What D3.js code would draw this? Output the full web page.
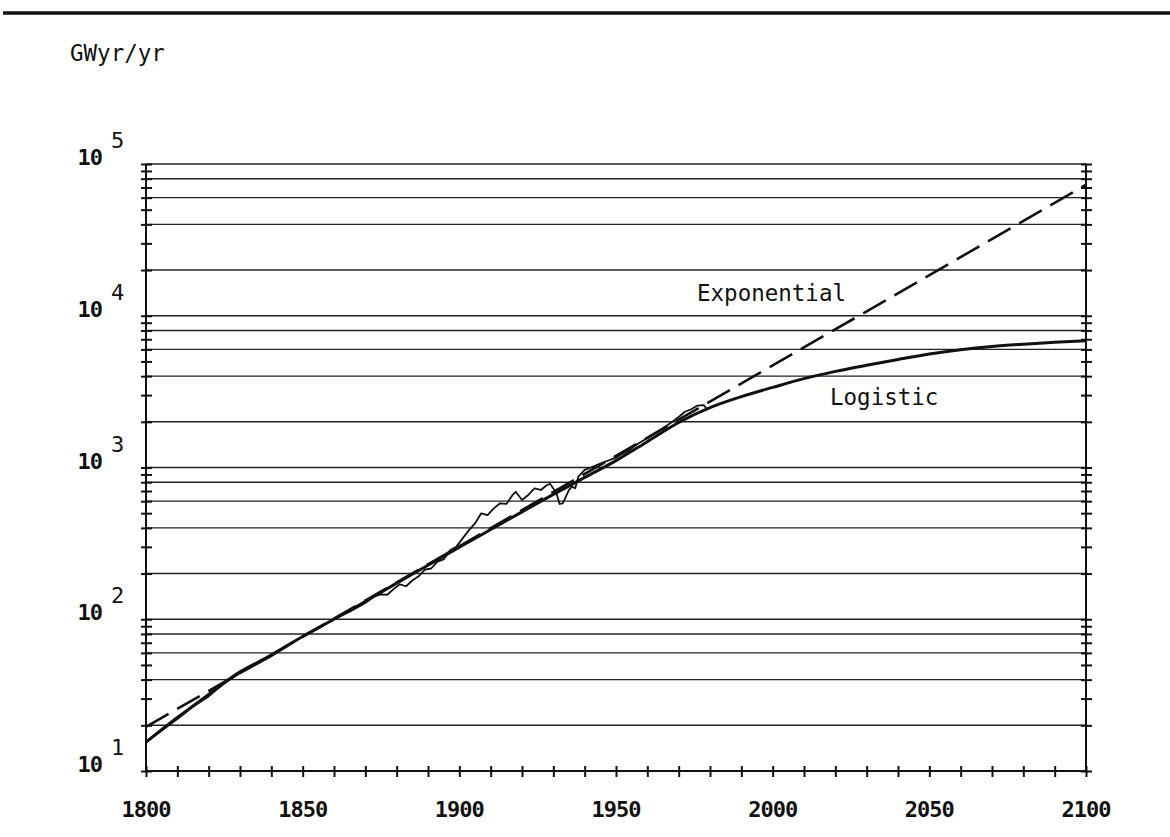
<!DOCTYPE html>
<meta charset="utf-8">
<title>Energy consumption: exponential vs logistic</title>
<style>

    body {
        margin: 0;
        background: #fff;
    }

    text {
        fill: #111;
    }

    .label {
        font-family: "DejaVu Sans Mono", monospace;
        font-size: 22.5px;
    }

    .tick-label {
        font-family: "DejaVu Sans Mono", monospace;
        font-weight: bold;
    }

</style>
<body>
<script src="https://cdn.jsdelivr.net/npm/d3@7/dist/d3.min.js"></script>
<script>

    // years on the x axis and the labelled ones
    var xLabels = [1800, 1850, 1900, 1950, 2000, 2050, 2100];
    var yExponents = [1, 2, 3, 4, 5];

    // exponential fit (straight on the log scale)
    var expoYears  = [1800, 2100];
    var expoValues = [19.5, 73000];

    // logistic fit
    var logiYears  = [1800, 1810, 1820, 1830, 1840, 1850, 1860, 1870, 1880, 1890,
                      1900, 1910, 1920, 1930, 1940, 1950, 1960, 1970, 1980, 1990,
                      2000, 2010, 2020, 2030, 2040, 2050, 2060, 2070, 2080, 2090, 2100];
    var logiValues = [15.5, 22.5, 32, 45, 58, 77, 100, 131, 173, 227,
                      298, 390, 510, 665, 860, 1110, 1480, 1980, 2480, 2930,
                      3370, 3850, 4300, 4720, 5150, 5600, 5980, 6280, 6500, 6680, 6850];

    // historical primary energy use, GWyr/yr
    var histYears  = [1800, 1805, 1810, 1815, 1820, 1825, 1830, 1835, 1840, 1845,
                      1850, 1855, 1860, 1865, 1870, 1873, 1875, 1877, 1879, 1881,
                      1883, 1885, 1887, 1889, 1891, 1893, 1895, 1897, 1899, 1901,
                      1903, 1905, 1907, 1909, 1911, 1913, 1915, 1917, 1918, 1920,
                      1922, 1924, 1926, 1928, 1929, 1931, 1932, 1933, 1935, 1936,
                      1937, 1938, 1940, 1942, 1944, 1946, 1948, 1950, 1952, 1954,
                      1956, 1958, 1960, 1962, 1964, 1966, 1968, 1970, 1972, 1974,
                      1976, 1978, 1979];
    var histValues = [15.5, 18.5, 22, 26.5, 31, 38, 44, 50, 57, 67,
                      77, 88, 100, 112, 128, 142, 146, 145, 158, 170,
                      165, 180, 192, 212, 216, 240, 248, 285, 300, 340,
                      385, 428, 499, 486, 538, 581, 575, 659, 692, 611,
                      659, 729, 711, 767, 780, 676, 575, 581, 711, 748,
                      729, 871, 964, 1000, 1040, 1080, 1120, 1160, 1230, 1290,
                      1390, 1480, 1560, 1660, 1760, 1880, 2000, 2150, 2330, 2420,
                      2560, 2580, 2430];

    var width = 1170,
        height = 837;

    var x = d3.scaleLinear().domain([1800, 2100]).range([146, 1086]);
    var y = d3.scaleLog().domain([10, 1e5]).range([771, 164]);

    var svg = d3.select("body").append("svg")
        .attr("width", width)
        .attr("height", height);

    // heavy rule at the top of the page
    svg.append("line")
        .attr("x1", 3).attr("x2", 1170)
        .attr("y1", 13).attr("y2", 13)
        .attr("stroke", "#111")
        .attr("stroke-width", 3.5);

    // gridlines at 2,4,6,8,10 of every decade
    var gridValues = [];
    var tickValues = [];
    d3.range(1, 5).forEach(function (k) {
        var base = Math.pow(10, k);
        [2, 4, 6, 8, 10].forEach(function (m) { gridValues.push(m * base); });
        d3.range(1, 10).forEach(function (m) { tickValues.push(m * base); });
    });
    tickValues.push(1e5);

    svg.append("g")
        .selectAll("line")
        .data(gridValues)
        .enter().append("line")
        .attr("x1", x(1800)).attr("x2", x(2100))
        .attr("y1", function (d) { return y(d); })
        .attr("y2", function (d) { return y(d); })
        .attr("stroke", "#222")
        .attr("stroke-width", 1.4);

    // crossing ticks on the left and right axes
    function yTicks(xpos) {
        var g = svg.append("g")
            .attr("transform", "translate(" + xpos + ",0)")
            .call(d3.axisRight(y).tickValues(tickValues).tickSize(11).tickFormat(""));
        g.select(".domain").remove();
        g.selectAll(".tick line").attr("stroke", "#111").attr("stroke-width", 2);
    }
    yTicks(x(1800) - 5);
    yTicks(x(2100) - 5);

    var xt = svg.append("g")
        .attr("transform", "translate(0," + (y(10) - 5) + ")")
        .call(d3.axisBottom(x).tickValues(d3.range(1800, 2101, 10)).tickSize(11).tickFormat(""));
    xt.select(".domain").remove();
    xt.selectAll(".tick line").attr("stroke", "#111").attr("stroke-width", 2);

    // frame: left, right and bottom axes
    svg.append("path")
        .attr("d", "M" + x(1800) + "," + y(1e5) + "V" + y(10) + "H" + x(2100) + "V" + y(1e5))
        .attr("fill", "none")
        .attr("stroke", "#111")
        .attr("stroke-width", 2);

    // x labels
    svg.append("g")
        .selectAll("text")
        .data(xLabels)
        .enter().append("text")
        .attr("class", "tick-label")
        .attr("x", function (d) { return x(d); })
        .attr("y", 817)
        .attr("text-anchor", "middle")
        .style("font-size", "22px")
        .style("letter-spacing", "-1px")
        .text(function (d) { return d; });

    // y labels 10^k
    var yl = svg.append("g")
        .selectAll("g")
        .data(yExponents)
        .enter().append("g")
        .attr("transform", function (d) { return "translate(0," + y(Math.pow(10, d)) + ")"; });
    yl.append("text")
        .attr("class", "tick-label")
        .attr("x", 102).attr("y", 1)
        .attr("text-anchor", "end")
        .style("font-size", "22px")
        .style("letter-spacing", "-1px")
        .text("10");
    yl.append("text")
        .attr("class", "label")
        .attr("x", 111).attr("y", -16)
        .style("font-size", "22px")
        .text(function (d) { return d; });

    var line = d3.line()
        .x(function (d) { return x(d[0]); })
        .y(function (d) { return y(d[1]); });

    var zip = function (a, b) { return a.map(function (v, i) { return [v, b[i]]; }); };

    svg.append("path")
        .datum(zip(histYears, histValues))
        .attr("d", line.curve(d3.curveLinear))
        .attr("fill", "none")
        .attr("stroke", "#111")
        .attr("stroke-width", 1.8)
        .attr("stroke-linejoin", "round");

    svg.append("path")
        .datum(zip(logiYears, logiValues))
        .attr("d", line.curve(d3.curveMonotoneX))
        .attr("fill", "none")
        .attr("stroke", "#111")
        .attr("stroke-width", 3);

    svg.append("path")
        .datum(zip(expoYears, expoValues))
        .attr("d", line.curve(d3.curveLinear))
        .attr("fill", "none")
        .attr("stroke", "#111")
        .attr("stroke-width", 2.6)
        .attr("stroke-dasharray", "26,10");

    // text labels
    svg.append("text").attr("class", "label").attr("x", 70).attr("y", 61).text("GWyr/yr");
    svg.append("text").attr("class", "label").attr("x", 697).attr("y", 301).text("Exponential");
    svg.append("text").attr("class", "label").attr("x", 830).attr("y", 405).text("Logistic");

</script>
